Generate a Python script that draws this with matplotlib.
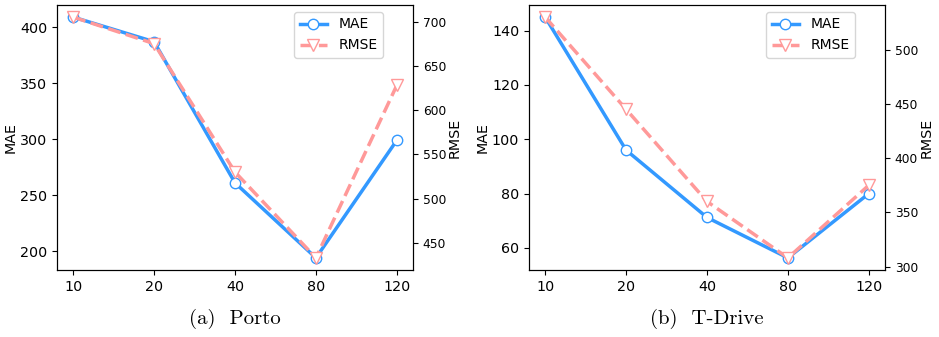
import matplotlib
matplotlib.use("Agg")
import matplotlib.pyplot as plt
import numpy as np

x_labels = ["10", "20", "40", "80", "120"]

porto_mae = [409, 387, 261, 194, 299]
porto_rmse = [705, 675, 530, 433, 628]

tdrive_mae = [145, 96, 71.2, 56.3, 80]
tdrive_rmse = [530, 445, 360, 308, 375]

captions = ["(a)  Porto", "(b)  T-Drive"]

BLUE = "#3399FF"
PINK = "#FF9999"

fig = plt.figure(figsize=(9.39, 3.37), dpi=100)

panels = [
    (porto_mae, porto_rmse, [57 / 939, 0.199, 356 / 939, 0.786]),
    (tdrive_mae, tdrive_rmse, [529 / 939, 0.199, 356 / 939, 0.786]),
]

xpos = np.arange(len(x_labels))
for i, (mae, rmse, rect) in enumerate(panels):
    ax = fig.add_axes(rect)
    ax2 = ax.twinx()
    l1, = ax.plot(xpos, mae, color=BLUE, lw=2.5, marker="o", markersize=7.5,
                  markerfacecolor="white", markeredgecolor=BLUE, markeredgewidth=1.0,
                  label="MAE")
    l2, = ax2.plot(xpos, rmse, color=PINK, lw=2.5, ls="--", marker="v", markersize=8,
                   markerfacecolor="white", markeredgecolor=PINK, markeredgewidth=1.0,
                   label="RMSE")
    ax.set_xticks(xpos)
    ax.set_xticklabels(x_labels)
    ax.tick_params(axis="both", labelsize=10.3)
    ax2.tick_params(axis="y", labelsize=8.8)
    ax.set_ylabel("MAE", fontsize=10.3, labelpad=2)
    ax2.set_ylabel("RMSE", fontsize=10.3, labelpad=1)
    ax2.legend(handles=[l1, l2], loc="upper right",
               bbox_to_anchor=(0.916, 0.974), borderaxespad=0, fontsize=10)
    cx = rect[0] + rect[2] / 2
    fig.text(cx, 1 - 319 / 337, captions[i], ha="center", va="center",
             family="cmr10", fontsize=15)

fig.savefig("out.png", dpi=100)
